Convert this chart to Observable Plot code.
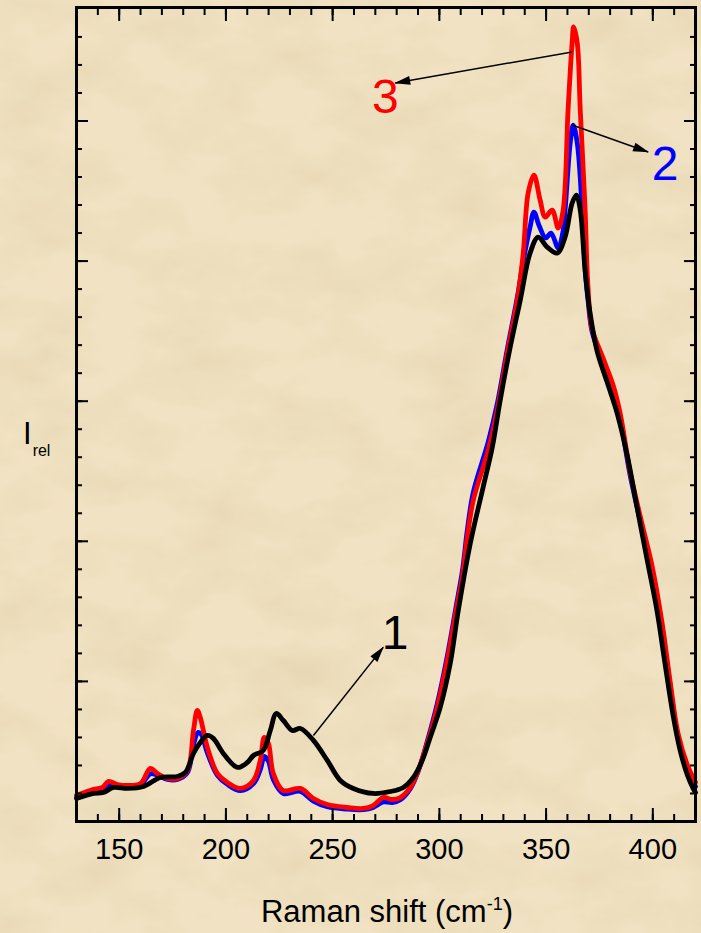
<!DOCTYPE html>
<html><head><meta charset="utf-8">
<script src="https://cdn.jsdelivr.net/npm/d3@7"></script>
<script src="https://cdn.jsdelivr.net/npm/@observablehq/plot@0.6"></script>
<style>
html,body{margin:0;padding:0;}
body{width:701px;height:933px;overflow:hidden;background:#f0e2c2;font-family:"Liberation Sans",Arial,sans-serif;}
#wrap{position:relative;width:701px;height:933px;}
#tex{position:absolute;left:0;top:0;}
#chart{position:absolute;left:0;top:0;}
#chart svg{background:transparent !important;}
#ylab{position:absolute;left:23px;top:418px;font-size:31px;color:#000;line-height:1;}
#ylab sub{font-size:16px;vertical-align:-12px;margin-left:1px}
#xlab{position:absolute;left:0;width:774px;text-align:center;top:895px;font-size:31px;color:#000;line-height:1;}
#xlab sup{font-size:18px;vertical-align:12px}
</style>
</head><body>
<div id="wrap">
<svg id="tex" width="701" height="933">
  <filter id="paper" x="0" y="0" width="100%" height="100%">
    <feTurbulence type="fractalNoise" baseFrequency="0.012 0.02" numOctaves="4" seed="7"/>
    <feColorMatrix type="matrix" values="0 0 0 0 0.74  0 0 0 0 0.6  0 0 0 0 0.38  0.9 0 0 0 -0.36"/>
  </filter>
  <rect width="701" height="933" fill="#f0e2c2"/>
  <rect width="701" height="933" filter="url(#paper)"/>
</svg>
<div id="chart"></div>
<div id="ylab">I<sub>rel</sub></div>
<div id="xlab">Raman shift (cm<sup>-1</sup>)</div>
</div>
<script>
// ---- data (Raman shift in cm^-1, relative intensity) ----
const shift1 = [130,138,142.6,147.3,153.9,161.4,169.3,177.3,181,184.8,188,191.3,194.1,198.8,205.4,210,212.9,217.5,220.8,223.6,226.9,231.1,234.9,241,247.5,253.6,259.7,269,277,283.1,287.8,292,295.7,300.4,305.1,308.8,314.5,320.5,324.8,328.5,333.2,337.9,342.5,346.3,350.5,355.2,358.9,362.2,364.2,366,368.3,370.6,373.9,378.6,383.3,388,392.6,397.3,402,405.7,409.5,412.8,416.1,418.9,420];
const irel1  = [0.164,0.2,0.207,0.243,0.236,0.25,0.314,0.321,0.35,0.486,0.564,0.614,0.593,0.486,0.386,0.421,0.471,0.507,0.65,0.771,0.721,0.65,0.664,0.579,0.436,0.293,0.236,0.2,0.214,0.243,0.314,0.436,0.6,0.814,1.129,1.5,1.986,2.386,2.671,3.007,3.386,3.721,4.057,4.171,4.1,4.057,4.171,4.414,4.471,4.364,3.93,3.63,3.357,3.136,2.914,2.614,2.243,1.871,1.5,1.129,0.757,0.507,0.336,0.236,0.207];

const shift2 = [130,138,142.2,145,149.2,153.9,160,164.6,167.9,172.6,177.3,182,184.8,187,188.5,191.3,196,200.7,206.8,212.9,216.1,218,219.9,222.2,226.9,234.9,241,247.5,256.9,264.4,269,273.7,277.9,281.7,286.4,290.1,294.3,299,303.7,307.8,310.8,313.1,315.9,322.9,327.1,331.8,336.5,339.3,342.5,344.3,346.8,349.8,352.3,355.7,357.8,358.9,361.3,362.7,364.6,366.9,368.5,369.8,371.5,376.7,381.4,384.7,389.4,395,399.7,404.3,408.1,411.8,416.1,420];
const irel2  = [0.18,0.22,0.235,0.265,0.255,0.25,0.262,0.34,0.33,0.3,0.3,0.35,0.55,0.636,0.62,0.49,0.33,0.265,0.22,0.27,0.37,0.464,0.43,0.3,0.2,0.215,0.145,0.105,0.088,0.085,0.1,0.14,0.135,0.155,0.235,0.36,0.57,0.84,1.18,1.53,1.79,2.08,2.35,2.71,2.98,3.37,3.74,4.0,4.243,4.35,4.25,4.165,4.2,4.093,4.2,4.364,4.843,4.971,4.843,4.364,3.9,3.7,3.5,3.27,3.08,2.88,2.47,2.09,1.79,1.39,0.97,0.6,0.38,0.25];

const shift3 = [130,138,142.2,145,149.2,153.9,160,164.6,167.9,172.6,177.3,182,184.8,186.6,188,191.3,196,200.7,206.8,212.9,216.1,218,219.9,222.2,226.9,234.9,241,247.5,256.9,264.4,269,273.7,277.9,281.7,286.4,290.1,294.3,299,303.7,307.8,310.8,313.1,315.9,322.9,327.1,331.8,336.5,339.3,341.6,344.3,347.2,349.6,352.8,355.7,358,360.3,362.2,362.9,364.6,366,368.3,369.5,371.5,376.7,381.4,384.7,389.4,395,399.7,404.3,408.1,411.8,416.1,420];
const irel3  = [0.186,0.229,0.243,0.286,0.264,0.257,0.271,0.379,0.343,0.307,0.307,0.364,0.65,0.793,0.743,0.529,0.343,0.279,0.236,0.293,0.436,0.6,0.557,0.343,0.221,0.236,0.164,0.121,0.1,0.093,0.114,0.171,0.157,0.171,0.243,0.364,0.557,0.814,1.15,1.5,1.75,2.03,2.293,2.65,2.936,3.343,3.721,4.057,4.486,4.614,4.436,4.314,4.364,4.236,4.364,5.079,5.557,5.671,5.557,5.079,4.364,3.85,3.52,3.307,3.114,2.914,2.493,2.121,1.821,1.421,1.0,0.629,0.407,0.28];

const xMajorTicks = [150,200,250,300,350,400];
const xMinorTicks = d3.range(130, 421, 10);
const yMajorTicks = [0,1,2,3,4,5];
const yMinorTicks = d3.range(0, 29).map(i => +(i*0.2).toFixed(1));

// annotation labels and arrows
const labelText  = ["1","2","3"];
const labelColor = ["#000000","#0000ff","#ff0000"];
const labelX     = [279.3, 405.7, 274.7];
const labelY     = [1.34, 4.69, 5.17];
const arrowX1    = [241.0, 362.2, 362.2];
const arrowY1    = [0.614, 4.971, 5.493];
const arrowX2    = [273.7, 397.8, 279.3];
const arrowY2    = [1.243, 4.779, 5.271];

const toRows = (xs, ys) => xs.map((x, i) => ({x, y: ys[i]}));
const s1 = toRows(shift1, irel1), s2 = toRows(shift2, irel2), s3 = toRows(shift3, irel3);
const labels = labelText.map((t, i) => ({t, c: labelColor[i], x: labelX[i], y: labelY[i]}));
const arrows = arrowX1.map((x1, i) => ({x1, y1: arrowY1[i], x2: arrowX2[i], y2: arrowY2[i]}));

const font = "Liberation Sans, Arial, sans-serif";
const tickOpts = {strokeWidth: 2, tickFormat: () => "", label: null};

const plot = Plot.plot({
  width: 701, height: 880,
  marginLeft: 76, marginRight: 6, marginTop: 7, marginBottom: 59,
  style: {background: "transparent", fontFamily: font, color: "#000"},
  x: {domain: [130, 420], axis: null},
  y: {domain: [0, 5.81], axis: null},
  marks: [
    Plot.line(s2, {x: "x", y: "y", stroke: "#0000ff", strokeWidth: 4.8, curve: "catmull-rom"}),
    Plot.line(s3, {x: "x", y: "y", stroke: "#ff0000", strokeWidth: 4.8, curve: "catmull-rom"}),
    Plot.line(s1, {x: "x", y: "y", stroke: "#000000", strokeWidth: 4.8, curve: "catmull-rom"}),
    Plot.link(arrows, {x1: "x1", y1: "y1", x2: "x2", y2: "y2", stroke: "#000", strokeWidth: 1.5, markerEnd: "arrow"}),
    Plot.text(labels, {x: "x", y: "y", text: "t", fill: "c", fontSize: 48, fontFamily: font}),
    Plot.axisX(xMinorTicks, {anchor: "bottom", tickSize: -7, ...tickOpts}),
    Plot.axisX(xMajorTicks, {anchor: "bottom", tickSize: -13, ...tickOpts}),
    Plot.axisX(xMinorTicks, {anchor: "top", tickSize: -7, ...tickOpts}),
    Plot.axisX(xMajorTicks, {anchor: "top", tickSize: -13, ...tickOpts}),
    Plot.axisY(yMinorTicks, {anchor: "left", tickSize: -6, ...tickOpts}),
    Plot.axisY(yMajorTicks, {anchor: "left", tickSize: -12, ...tickOpts}),
    Plot.axisY(yMinorTicks, {anchor: "right", tickSize: -6, ...tickOpts}),
    Plot.axisY(yMajorTicks, {anchor: "right", tickSize: -12, ...tickOpts}),
    Plot.axisX(xMajorTicks, {anchor: "bottom", tickSize: 0, tickPadding: 17, fontSize: 29, fontFamily: font, label: null, fill: "#000"}),
    Plot.frame({stroke: "#000", strokeWidth: 3})
  ]
});
// filled arrowheads
plot.querySelectorAll("marker").forEach(m => {
  m.setAttribute("viewBox", "-16 -6 18 12");
  m.setAttribute("markerWidth", "18");
  m.setAttribute("markerHeight", "12");
  m.setAttribute("markerUnits", "userSpaceOnUse");
  m.setAttribute("fill", "#000");
  m.setAttribute("stroke", "none");
  m.querySelectorAll("path").forEach(p => {
    p.setAttribute("d", "M-15,-4.5L1,0L-15,4.5Z");
    p.setAttribute("fill", "#000");
    p.setAttribute("stroke", "none");
  });
});
document.getElementById("chart").appendChild(plot);
</script>
</body></html>
